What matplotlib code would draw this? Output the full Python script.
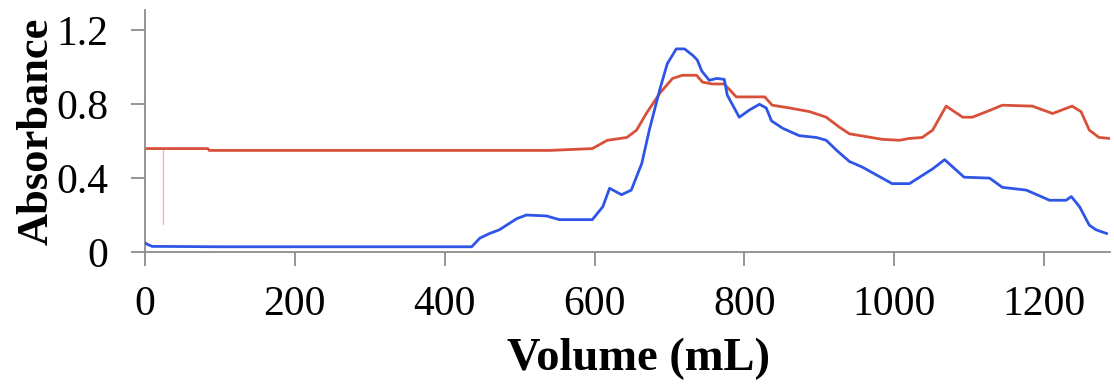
import numpy as np
import matplotlib.pyplot as plt
import matplotlib as mpl

mpl.rcParams.update({
    "font.family": "serif",
    "font.serif": ["Liberation Serif", "DejaVu Serif"],
    "font.size": 30,
})

# --------------- DATA -------------------------------------------------------
blue_ml = [0, 4, 10, 22, 100, 300, 436, 447, 460, 473, 496, 509, 536, 553,
           597, 611, 620, 636, 649, 663, 673, 687, 697, 709, 720, 731, 737,
           743, 753, 763, 773, 777, 793, 807, 820, 829, 836, 851, 873, 896,
           909, 923, 940, 957, 997, 1020, 1051, 1067, 1093, 1127, 1144, 1176,
           1207, 1229, 1236, 1247, 1260, 1269, 1283]
blue_abs = [0.05, 0.04, 0.03, 0.03, 0.028, 0.028, 0.028, 0.075, 0.10, 0.12,
            0.18, 0.20, 0.195, 0.175, 0.175, 0.245, 0.345, 0.31, 0.335, 0.48,
            0.66, 0.88, 1.02, 1.10, 1.10, 1.065, 1.04, 0.98, 0.93, 0.94,
            0.935, 0.85, 0.73, 0.77, 0.80, 0.78, 0.71, 0.67, 0.63, 0.62,
            0.605, 0.55, 0.49, 0.46, 0.37, 0.37, 0.45, 0.50, 0.405, 0.40,
            0.35, 0.335, 0.28, 0.28, 0.30, 0.245, 0.145, 0.12, 0.10]

red_ml = [0, 84, 86, 300, 540, 597, 617, 643, 656, 669, 687, 704, 717, 736,
          744, 757, 773, 789, 807, 827, 837, 860, 887, 909, 927, 940, 984,
          1007, 1020, 1037, 1051, 1069, 1091, 1104, 1123, 1144, 1184, 1211,
          1237, 1249, 1260, 1273, 1287]
red_abs = [0.56, 0.56, 0.55, 0.55, 0.55, 0.56, 0.605, 0.62, 0.66, 0.75, 0.86,
           0.94, 0.957, 0.957, 0.92, 0.91, 0.91, 0.84, 0.84, 0.84, 0.795,
           0.78, 0.76, 0.73, 0.675, 0.64, 0.61, 0.605, 0.615, 0.62, 0.66,
           0.79, 0.73, 0.73, 0.76, 0.795, 0.79, 0.75, 0.79, 0.76, 0.66,
           0.62, 0.615]

# brief detector dropout on the red trace
dropout_ml = [24, 24]
dropout_abs = [0.56, 0.15]

x_ticks = [0, 200, 400, 600, 800, 1000, 1200]
y_ticks = [0, 0.4, 0.8, 1.2]
y_ticklabels = ["0", "0.4", "0.8", "1.2"]

# --------------- PLOT -------------------------------------------------------
fig = plt.figure(figsize=(11.14, 3.9), dpi=100)
ax = fig.add_axes([0.130, 0.354, 0.866, 0.620])

ax.plot(dropout_ml, dropout_abs, color="#f2b8b0", lw=1.0, zorder=1)
ax.plot(red_ml, red_abs, color="#d9503a", lw=2.0, zorder=2)
ax.plot(blue_ml, blue_abs, color="#2f55e6", lw=2.0, zorder=3)

ax.set_xlim(0, 1287)
ax.set_ylim(0, 1.31)
ax.set_xticks(x_ticks)
ax.set_yticks(y_ticks)
ax.set_yticklabels(y_ticklabels)

for side in ["top", "right"]:
    ax.spines[side].set_visible(False)
for side in ["left", "bottom"]:
    ax.spines[side].set_color("#8c8c8c")
    ax.spines[side].set_linewidth(1.3)

ax.tick_params(axis="both", direction="out", length=10, width=1.3,
               color="#8c8c8c", labelsize=30)
ax.tick_params(axis="x", pad=14)
ax.tick_params(axis="y", pad=16)

ax.set_xlabel("Volume (mL)", fontweight="bold", fontsize=33.5)
ax.xaxis.set_label_coords(0.512, -0.355)
ax.set_ylabel("Absorbance", fontweight="bold", fontsize=32, labelpad=0)

fig.savefig("out.png", dpi=100, facecolor="white")
